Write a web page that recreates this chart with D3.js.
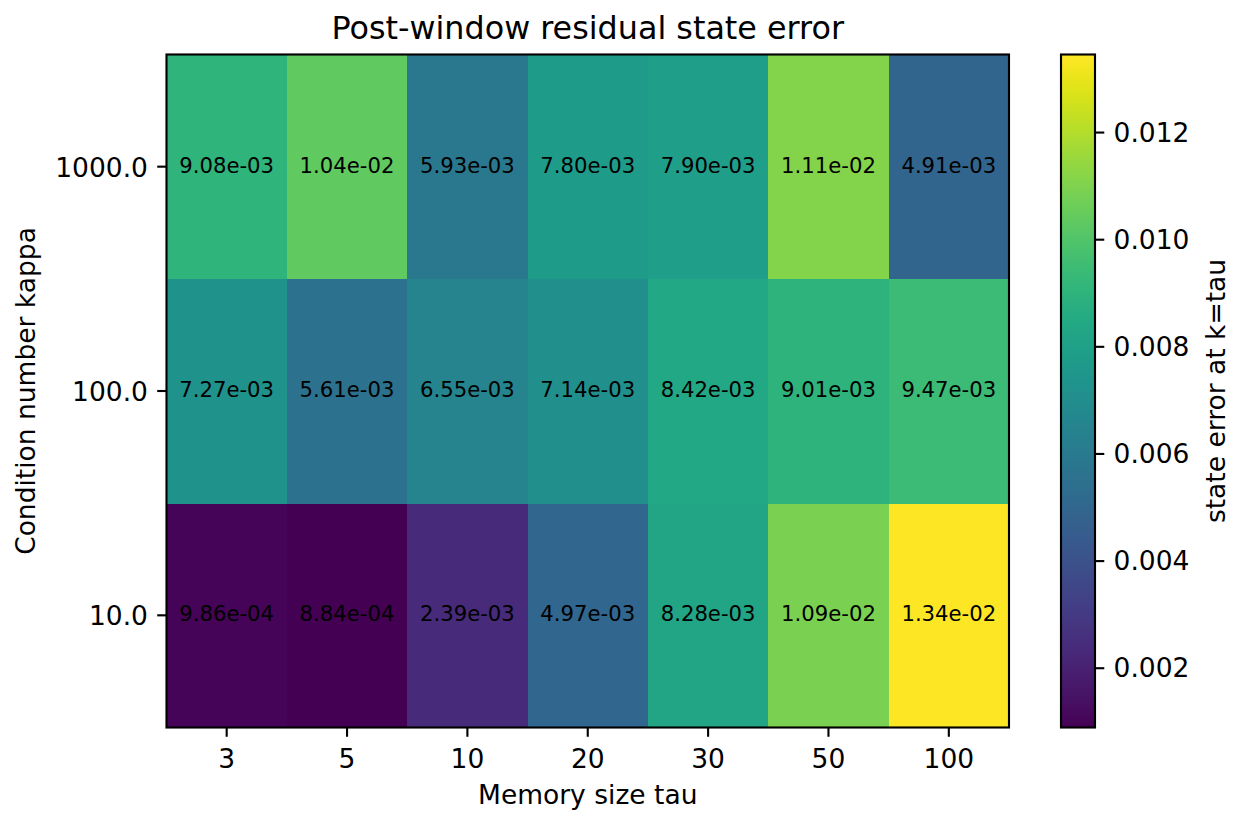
<!DOCTYPE html>
<html>
<head>
<meta charset="utf-8">
<script src="https://cdn.jsdelivr.net/npm/d3@7"></script>
<style>
  html, body { margin: 0; padding: 0; background: #fff; }
  svg text { font-family: "DejaVu Sans", sans-serif; fill: #000; }
</style>
</head>
<body>
<svg id="chart" width="1233" height="815"></svg>
<script>
// Memory sizes (columns) and condition numbers (rows, bottom to top)
const taus = ["3", "5", "10", "20", "30", "50", "100"];
const kappas = ["10.0", "100.0", "1000.0"];

// State error at k = tau, one row per kappa
const errKappa10   = [9.86e-4, 8.84e-4, 2.39e-3, 4.97e-3, 8.28e-3, 1.09e-2, 0.013448];
const errKappa100  = [7.27e-3, 5.61e-3, 6.55e-3, 7.14e-3, 8.42e-3, 9.01e-3, 9.47e-3];
const errKappa1000 = [9.08e-3, 1.04e-2, 5.93e-3, 7.80e-3, 7.90e-3, 1.11e-2, 4.91e-3];

const colorbarTicks = [0.002, 0.004, 0.006, 0.008, 0.010, 0.012];

const rows = [errKappa10, errKappa100, errKappa1000];
const cells = [];
rows.forEach((vals, r) => vals.forEach((v, c) => cells.push({ kappa: kappas[r], tau: taus[c], value: v })));

const svg = d3.select("#chart");
const plot = { left: 166.5, right: 1009, top: 54.5, bottom: 727.5 };
const cbar = { left: 1061, right: 1095 };
const px = 2.65; // pixels per point
const tickLen = 3.5 * px, tickPad = 3.5 * px, lineW = 0.8 * px;

const x = d3.scaleBand().domain(taus).range([plot.left, plot.right]);
const y = d3.scaleBand().domain(kappas.slice().reverse()).range([plot.top, plot.bottom]);

const extent = d3.extent(cells, d => d.value);
const color = d3.scaleSequential(d3.interpolateViridis).domain(extent);
const cy = d3.scaleLinear().domain(extent).range([plot.bottom, plot.top]);

const fmt = v => v.toExponential(2).replace(/e([+-])(\d)$/, "e$10$2");

// Heatmap cells
svg.append("g").selectAll("rect").data(cells).join("rect")
  .attr("x", d => x(d.tau))
  .attr("y", d => y(d.kappa))
  .attr("width", x.bandwidth() + 0.5)
  .attr("height", y.bandwidth() + 0.5)
  .attr("fill", d => color(d.value))
  .attr("shape-rendering", "crispEdges");

// Value annotations
svg.append("g").selectAll("text").data(cells).join("text")
  .attr("x", d => x(d.tau) + x.bandwidth() / 2)
  .attr("y", d => y(d.kappa) + y.bandwidth() / 2 + 6)
  .attr("text-anchor", "middle")
  .attr("font-size", 8 * px)
  .text(d => fmt(d.value));

// Axes frame
svg.append("rect")
  .attr("x", plot.left).attr("y", plot.top)
  .attr("width", plot.right - plot.left).attr("height", plot.bottom - plot.top)
  .attr("fill", "none").attr("stroke", "#000").attr("stroke-width", lineW);

// X axis
const xAxis = d3.axisBottom(x).tickSize(tickLen).tickPadding(tickPad);
const gx = svg.append("g").attr("transform", `translate(0,${plot.bottom})`).call(xAxis);
gx.select(".domain").remove();
gx.selectAll(".tick line").attr("stroke", "#000").attr("stroke-width", lineW);
gx.selectAll(".tick text").attr("font-size", 10 * px).attr("font-family", "DejaVu Sans")
  .attr("fill", "#000").attr("y", null).attr("dy", null)
  .attr("transform", "translate(0,40.5)");

// Y axis
const yAxis = d3.axisLeft(y).tickSize(tickLen).tickPadding(tickPad);
const gy = svg.append("g").attr("transform", `translate(${plot.left},0)`).call(yAxis);
gy.select(".domain").remove();
gy.selectAll(".tick line").attr("stroke", "#000").attr("stroke-width", lineW);
gy.selectAll(".tick text").attr("font-size", 10 * px).attr("font-family", "DejaVu Sans")
  .attr("fill", "#000").attr("dy", null).attr("transform", "translate(0,10)");

// Titles
svg.append("text")
  .attr("x", (plot.left + plot.right) / 2).attr("y", 38.5)
  .attr("text-anchor", "middle").attr("font-size", 12 * px)
  .text("Post-window residual state error");

svg.append("text")
  .attr("x", (plot.left + plot.right) / 2).attr("y", 804)
  .attr("text-anchor", "middle").attr("font-size", 10 * px)
  .text("Memory size tau");

svg.append("text")
  .attr("transform", `translate(35,${(plot.top + plot.bottom) / 2}) rotate(-90)`)
  .attr("text-anchor", "middle").attr("font-size", 10 * px)
  .text("Condition number kappa");

// Colorbar
const defs = svg.append("defs");
const grad = defs.append("linearGradient").attr("id", "cbar-grad")
  .attr("x1", 0).attr("y1", 1).attr("x2", 0).attr("y2", 0);
d3.range(0, 1.0001, 1 / 64).forEach(t => {
  grad.append("stop").attr("offset", t)
    .attr("stop-color", d3.interpolateViridis(t));
});
svg.append("rect")
  .attr("x", cbar.left).attr("y", plot.top)
  .attr("width", cbar.right - cbar.left).attr("height", plot.bottom - plot.top)
  .attr("fill", "url(#cbar-grad)");
svg.append("rect")
  .attr("x", cbar.left).attr("y", plot.top)
  .attr("width", cbar.right - cbar.left).attr("height", plot.bottom - plot.top)
  .attr("fill", "none").attr("stroke", "#000").attr("stroke-width", lineW);

const cAxis = d3.axisRight(cy).tickValues(colorbarTicks).tickFormat(d3.format(".3f"))
  .tickSize(tickLen).tickPadding(tickPad);
const gc = svg.append("g").attr("transform", `translate(${cbar.right},0)`).call(cAxis);
gc.select(".domain").remove();
gc.selectAll(".tick line").attr("stroke", "#000").attr("stroke-width", lineW);
gc.selectAll(".tick text").attr("font-size", 10 * px).attr("font-family", "DejaVu Sans")
  .attr("fill", "#000").attr("dy", null).attr("transform", "translate(0,9)");

svg.append("text")
  .attr("transform", `translate(1225,${(plot.top + plot.bottom) / 2}) rotate(-90)`)
  .attr("text-anchor", "middle").attr("font-size", 10 * px)
  .text("state error at k=tau");
</script>
</body>
</html>
